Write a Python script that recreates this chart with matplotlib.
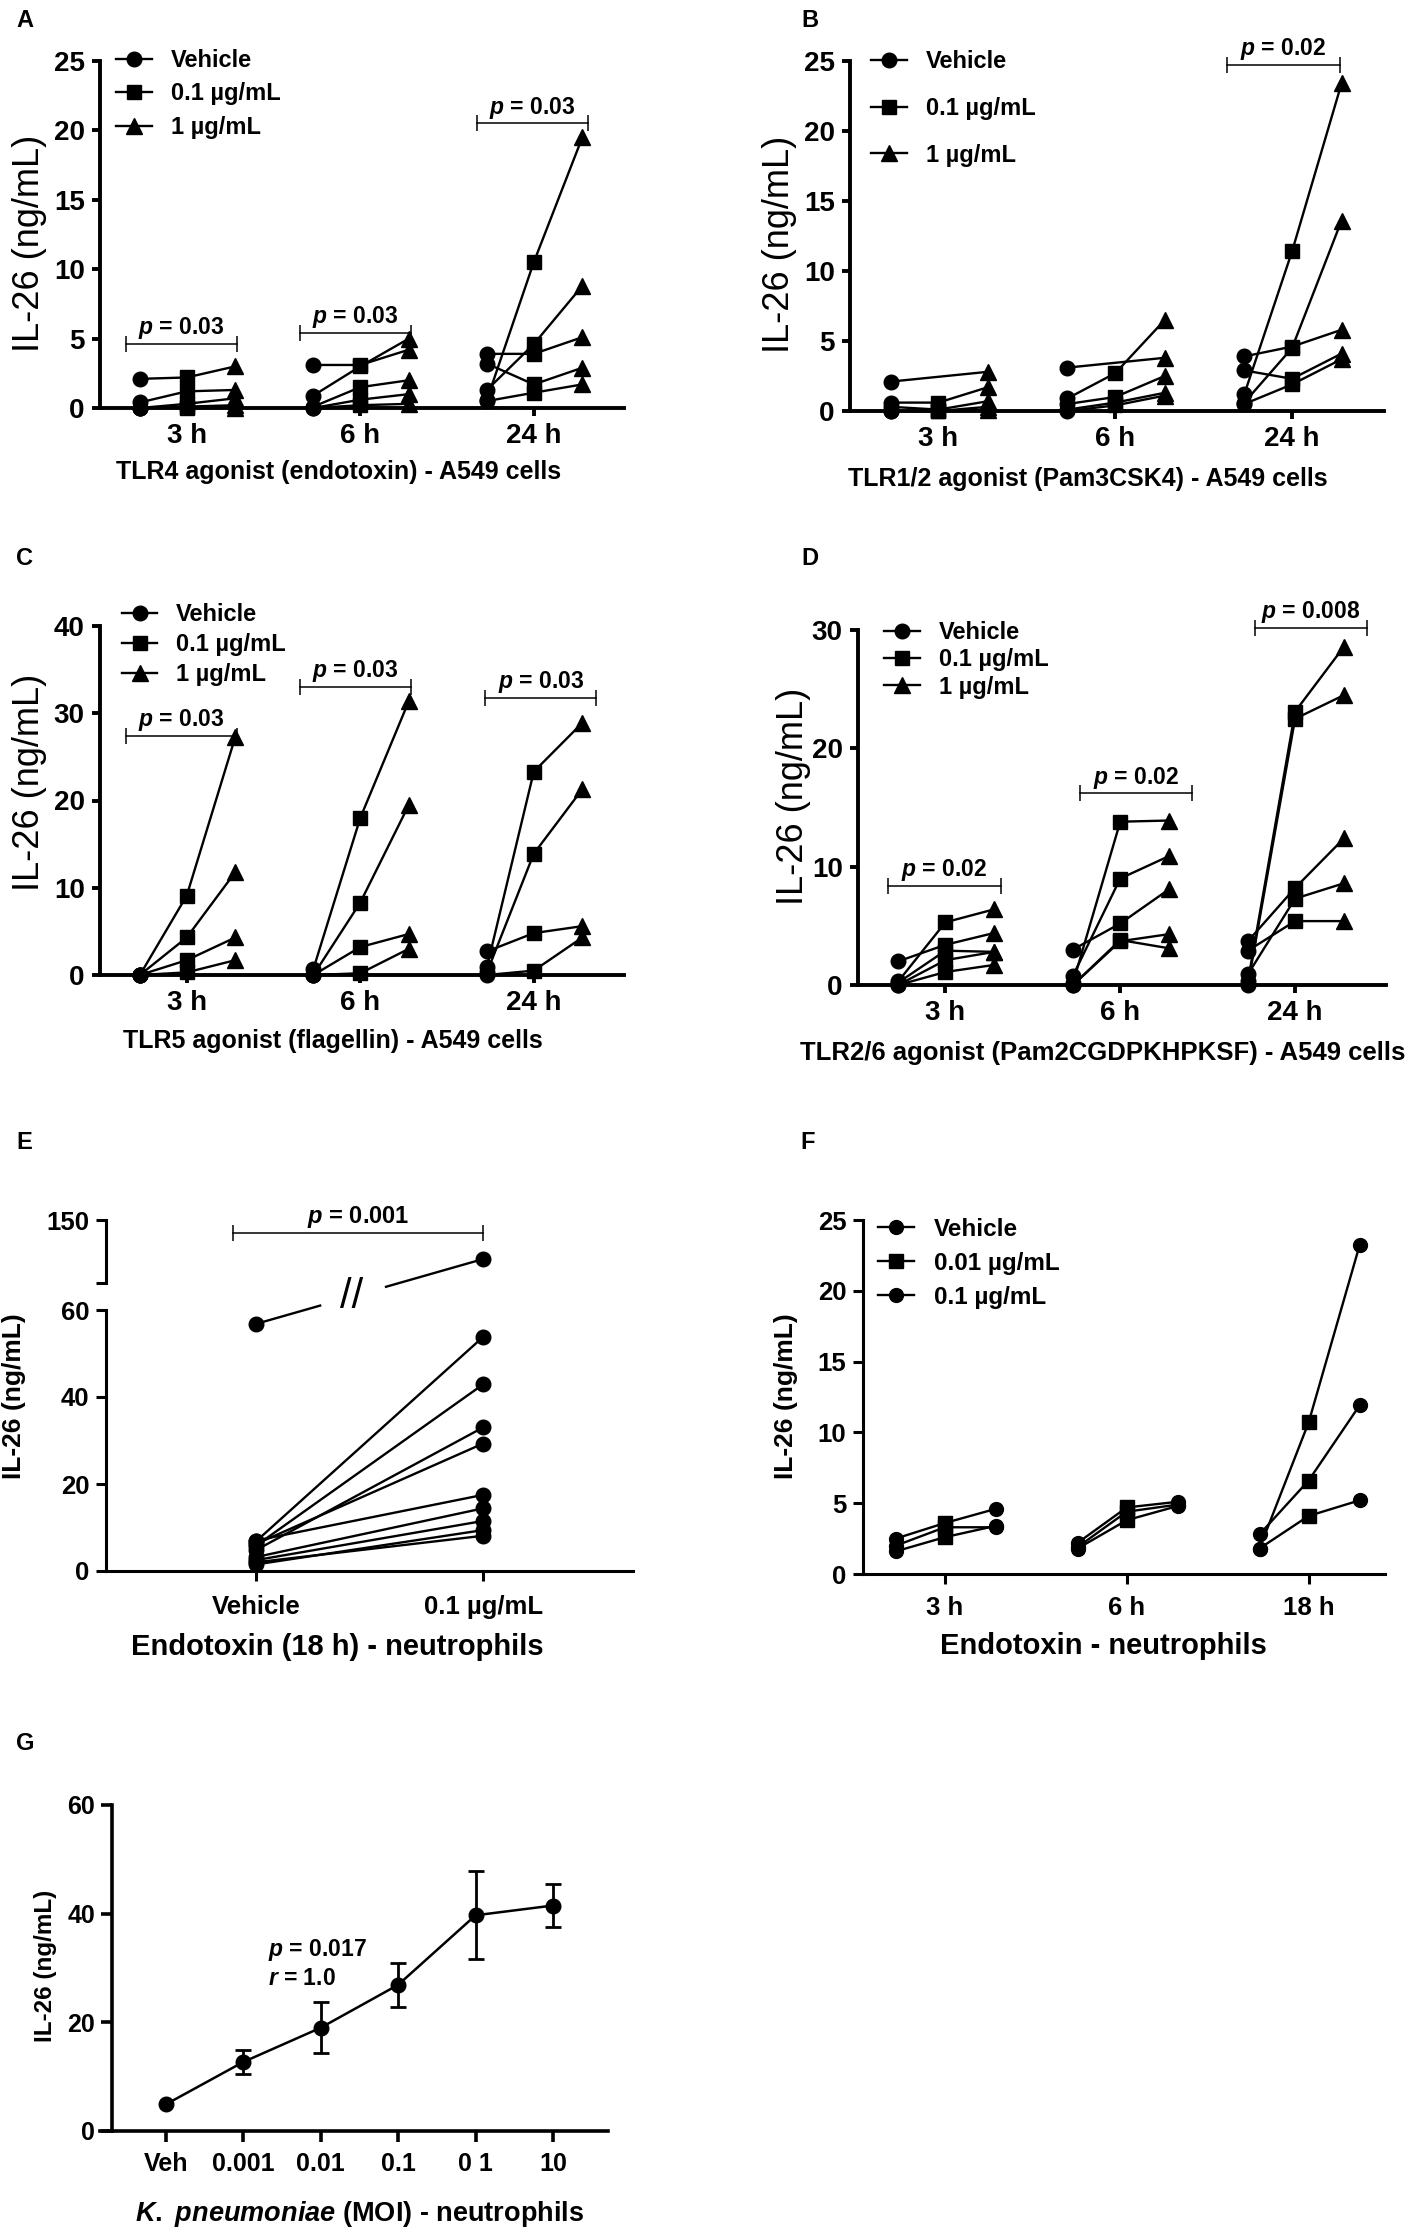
import numpy as np
import matplotlib
matplotlib.use('Agg')
import matplotlib.pyplot as plt
from matplotlib.lines import Line2D

plt.rcParams['font.family'] = ['Liberation Sans', 'DejaVu Sans']
plt.rcParams['font.weight'] = 'bold'
plt.rcParams['mathtext.fontset'] = 'custom'
plt.rcParams['mathtext.it'] = 'Liberation Sans:italic:bold'
plt.rcParams['mathtext.rm'] = 'Liberation Sans:bold'
plt.rcParams['mathtext.bf'] = 'Liberation Sans:bold'

nan = np.nan

# ---- data (rows = time point, columns = donor) ----
times_24 = ['3 h', '6 h', '24 h']
times_18 = ['3 h', '6 h', '18 h']
doses_a549 = ['Vehicle', '0.1 µg/mL', '1 µg/mL']
doses_neut = ['Vehicle', '0.01 µg/mL', '0.1 µg/mL']

a_veh = [[2.1, 0.4, 0.0, 0.0, 0.0], [3.1, 0.9, 0.1, 0.0, 0.0], [3.9, 1.3, 0.6, 3.2, 0.5]]
a_low = [[2.2, 1.2, 0.3, 0.1, 0.0], [3.1, 3.0, 1.5, 0.6, 0.2], [3.9, 4.6, 10.5, 1.7, 1.1]]
a_high = [[3.0, 1.3, 0.7, 0.2, 0.0], [4.2, 5.0, 2.0, 1.0, 0.3], [5.1, 8.8, 19.5, 2.9, 1.7]]

b_veh = [[2.1, 0.6, 0.3, 0.0, 0.0], [3.1, 0.9, 0.5, 0.1, 0.0], [3.9, 1.2, 0.6, 2.9, 0.5]]
b_low = [[nan, 0.6, 0.1, 0.0, 0.0], [nan, 2.7, 1.0, 0.6, 0.4], [4.6, 11.4, 4.5, 2.3, 1.9]]
b_high = [[2.8, 1.7, 0.7, 0.3, 0.1], [3.8, 6.5, 2.5, 1.3, 1.1], [5.8, 23.4, 13.6, 4.1, 3.7]]

c_veh = [[0.0, 0.0, 0.0, 0.0], [0.7, 0.0, 0.0, 0.0], [0.9, 0.3, 2.7, 0.0]]
c_low = [[9.1, 4.3, 1.7, 0.3], [18.0, 8.3, 3.2, 0.2], [23.3, 13.9, 4.8, 0.5]]
c_high = [[27.3, 11.8, 4.3, 1.7], [31.4, 19.5, 4.7, 3.0], [28.9, 21.3, 5.6, 4.3]]

d_veh = [[0.3, 2.0, 0.2, 0.0, 0.0], [0.2, 0.8, 3.0, 0.0, 0.0], [0.3, 0.0, 3.7, 0.9, 2.9]]
d_low = [[5.3, 3.4, 2.9, 2.1, 1.1], [13.8, 9.0, 5.2, 3.7, 3.8], [23.1, 22.5, 8.2, 7.3, 5.4]]
d_high = [[6.4, 4.4, 2.8, 2.8, 1.7], [13.9, 10.9, 8.1, 4.3, 3.1], [28.6, 24.5, 12.4, 8.6, 5.4]]

e_groups = ['Vehicle', '0.1 µg/mL']
e_veh = [56.8, 6.8, 5.8, 4.8, 6.2, 7.0, 3.2, 2.5, 1.5, 2.0]
e_trt = [119.0, 53.8, 42.9, 33.0, 29.3, 17.5, 14.4, 11.5, 9.4, 8.1]

f_veh = [[2.5, 2.0, 1.6], [2.2, 1.9, 1.8], [1.8, 2.8, 1.8]]
f_low = [[3.6, 3.3, 2.6], [4.7, 4.4, 3.8], [10.7, 6.6, 4.1]]
f_high = [[4.6, 3.3, 3.4], [5.1, 4.9, 4.8], [23.2, 11.9, 5.2]]

g_labels = ['Veh', '0.001', '0.01', '0.1', '0 1', '10']
g_mean = [4.9, 12.7, 19.0, 26.9, 39.7, 41.5]
g_sem = [nan, 2.2, 4.7, 4.0, 8.1, 3.9]

W, H = 1417, 2230
fig = plt.figure(figsize=(W / 100, H / 100), dpi=100)


def px_axes(l, t, r, b):
    return fig.add_axes([l / W, 1 - b / H, (r - l) / W, (b - t) / H])


def frame(ax, lw, tl, fs, xpad, ypad):
    ax.spines['top'].set_visible(False)
    ax.spines['right'].set_visible(False)
    for s in ['left', 'bottom']:
        ax.spines[s].set_linewidth(lw)
        ax.spines[s].set_capstyle('projecting')
    ax.tick_params(width=lw, length=tl, labelsize=fs)
    ax.tick_params(axis='x', pad=xpad)
    ax.tick_params(axis='y', pad=ypad)
    ax.set_facecolor('none')


def atext(ax, x, y, s, fs, **kw):
    ax.text(x, y, s, transform=ax.transAxes, fontsize=fs, ha=kw.pop('ha', 'center'),
            va='center', **kw)


def letter(s, x, y):
    fig.text(x / W, 1 - y / H, s, fontsize=17, fontweight='bold', ha='left', va='top')


def bracket(ax, x0, x1, y, s, fs):
    ax.plot([x0, x1], [y, y], color='k', lw=1.1, marker='|', ms=11, mew=1.1,
            clip_on=False, zorder=4)
    ax.annotate(s, xy=((x0 + x1) / 2, y), xytext=(0, 2), textcoords='offset points',
                ha='center', va='bottom', fontsize=fs, annotation_clip=False)


offs = [-0.27, 0.0, 0.28]
msizes = {'o': 10.5, 's': 10, '^': 11.5}


def paired(ax, veh, low, high, markers, lw=1.7, scale=1.0):
    for t in range(len(veh)):
        for d in range(len(veh[t])):
            xs = np.array([t + o for o in offs])
            ys = np.array([veh[t][d], low[t][d], high[t][d]], float)
            ok = ~np.isnan(ys)
            ax.plot(xs[ok], ys[ok], '-', color='k', lw=lw, clip_on=False, zorder=2)
            for x, y, m in zip(xs, ys, markers):
                if not np.isnan(y):
                    ax.plot(x, y, m, color='k', ms=msizes[m] * scale, clip_on=False, zorder=3)


def legend(ax, labels, markers, anchor, spacing, fs, scale=1.0):
    hs = [Line2D([], [], color='k', lw=1.7, marker=m, ms=msizes[m] * scale) for m in markers]
    ax.legend(hs, labels, loc='upper left', bbox_to_anchor=anchor, frameon=False,
              fontsize=fs, borderpad=0, borderaxespad=0, handlelength=1.5,
              handletextpad=0.8, labelspacing=spacing)


# ---- panels A-D ----
panels = [
    dict(letter='A', lxy=(16, 9), box=(100, 61, 624, 408), data=(a_veh, a_low, a_high),
         ymax=25, ystep=5, xlab='TLR4 agonist (endotoxin) - A549 cells', xl=(0.456, -0.184, 'center', 18),
         yl=(-0.135, 0.473), anchor=(0.031, 1.035), spacing=0.45,
         brackets=[(0, -0.35, 0.29, 4.6, '0.03'), (1, -0.35, 0.29, 5.4, '0.03'),
                   (2, -0.33, 0.31, 20.5, '0.03')]),
    dict(letter='B', lxy=(801, 9), box=(850, 61, 1384, 411), data=(b_veh, b_low, b_high),
         ymax=25, ystep=5, xlab='TLR1/2 agonist (Pam3CSK4) - A549 cells', xl=(0.446, -0.194, 'center', 18),
         yl=(-0.132, 0.477), anchor=(0.04, 1.03), spacing=1.0,
         brackets=[(2, -0.37, 0.27, 24.7, '0.02')]),
    dict(letter='C', lxy=(16, 547), box=(100, 626, 624, 975), data=(c_veh, c_low, c_high),
         ymax=40, ystep=10, xlab='TLR5 agonist (flagellin) - A549 cells', xl=(0.445, -0.189, 'center', 18),
         yl=(-0.135, 0.553), anchor=(0.042, 1.066), spacing=0.3,
         brackets=[(0, -0.35, 0.29, 27.4, '0.03'), (1, -0.35, 0.29, 33.0, '0.03'),
                   (2, -0.28, 0.36, 31.8, '0.03')]),
    dict(letter='D', lxy=(801, 547), box=(858, 630, 1386, 985), data=(d_veh, d_low, d_high),
         ymax=30, ystep=10, xlab='TLR2/6 agonist (Pam2CGDPKHPKSF) - A549 cells', xl=(-0.11, -0.192, 'left', 18.5),
         yl=(-0.122, 0.532), anchor=(0.05, 1.025), spacing=0.18,
         brackets=[(0, -0.33, 0.32, 8.4, '0.02'), (1, -0.23, 0.41, 16.2, '0.02'),
                   (2, -0.23, 0.41, 30.2, '0.008')]),
]

for p in panels:
    ax = px_axes(*p['box'])
    frame(ax, 2.8, 6, 20, 5, 5)
    veh, low, high = p['data']
    paired(ax, veh, low, high, ['o', 's', '^'])
    ax.set_xlim(-0.5, 2.52)
    ax.set_ylim(0, p['ymax'])
    ax.set_yticks(np.arange(0, p['ymax'] + 1, p['ystep']))
    ax.set_xticks(range(3))
    ax.set_xticklabels(times_24)
    for t, dx0, dx1, y, pv in p['brackets']:
        bracket(ax, t + dx0, t + dx1, y, r'$p$ = ' + pv, 16.5)
    legend(ax, doses_a549, ['o', 's', '^'], p['anchor'], p['spacing'], 17)
    atext(ax, p['xl'][0], p['xl'][1], p['xlab'], p['xl'][3], ha=p['xl'][2])
    atext(ax, p['yl'][0], p['yl'][1], 'IL-26 (ng/mL)', 26, rotation=90, fontweight='normal')
    letter(p['letter'], *p['lxy'])

# ---- panel E (broken axis) ----
ax_hi = px_axes(106, 1220, 633, 1283)
ax_lo = px_axes(106, 1310, 633, 1571)
for ax in (ax_hi, ax_lo):
    frame(ax, 2.2, 7, 18.5, 10, 5)
    ax.set_xlim(-0.66, 1.66)
ax_hi.spines['bottom'].set_visible(False)
ax_hi.set_xticks([])
ax_hi.set_ylim(100, 150)
ax_hi.set_yticks([100, 150])
ax_hi.set_yticklabels(['', '150'])
ax_lo.set_ylim(0, 60)
ax_lo.set_yticks([0, 20, 40, 60])
ax_lo.set_xticks([0, 1])
ax_lo.set_xticklabels(e_groups)

for v, t in zip(e_veh[1:], e_trt[1:]):
    ax_lo.plot([0, 1], [v, t], '-o', color='k', lw=1.7, ms=10.5, clip_on=False, zorder=3)
ax_lo.plot(0, e_veh[0], 'o', color='k', ms=10.5, clip_on=False, zorder=3)
ax_hi.plot(1, e_trt[0], 'o', color='k', ms=10.5, clip_on=False, zorder=3)

# line across the break, with a gap and '//' mark
p0 = ax_lo.transData.transform((0, e_veh[0]))
p1 = ax_hi.transData.transform((1, e_trt[0]))
yg = fig.transFigure.transform((0, (ax_hi.get_position().y0 + ax_lo.get_position().y1) / 2))[1]
tg = (yg - p0[1]) / (p1[1] - p0[1])
inv = fig.transFigure.inverted()
for ta, tb in [(0.0, tg - 0.14), (tg + 0.15, 1.0)]:
    qa = inv.transform(p0 + ta * (p1 - p0))
    qb = inv.transform(p0 + tb * (p1 - p0))
    fig.add_artist(Line2D([qa[0], qb[0]], [qa[1], qb[1]], color='k', lw=1.7,
                          transform=fig.transFigure))
qm = inv.transform(p0 + tg * (p1 - p0))
fig.text(qm[0], qm[1], '//', fontsize=30, fontweight='normal', ha='center', va='center')

bracket(ax_hi, -0.1, 1.0, 139.7, r'$p$ = 0.001', 17)
atext(ax_lo, 0.438, -0.291, 'Endotoxin (18 h) - neutrophils', 21)
atext(ax_lo, -0.175, 0.67, 'IL-26 (ng/mL)', 19, rotation=90)
letter('E', 16, 1131)

# ---- panel F ----
ax = px_axes(863, 1220, 1385, 1574)
frame(ax, 2.2, 7, 18.5, 9, 5)
paired(ax, f_veh, f_low, f_high, ['o', 's', 'o'], lw=1.7, scale=0.95)
ax.set_xlim(-0.45, 2.42)
ax.set_ylim(0, 25)
ax.set_yticks(np.arange(0, 26, 5))
ax.set_xticks(range(3))
ax.set_xticklabels(times_18)
legend(ax, doses_neut, ['o', 's', 'o'], (0.028, 1.006), 0.45, 17.5, scale=0.95)
atext(ax, 0.46, -0.203, 'Endotoxin - neutrophils', 21)
atext(ax, -0.148, 0.503, 'IL-26 (ng/mL)', 19, rotation=90)
letter('F', 800, 1131)

# ---- panel G ----
ax = px_axes(100, 1805, 608, 2131)
frame(ax, 2.6, 8, 18, 7, 4)
ax.spines['left'].set_position(('data', -0.70))
xg = np.arange(len(g_labels))
ax.errorbar(xg, g_mean, yerr=g_sem, fmt='-o', color='k', lw=1.8, ms=10.5,
            elinewidth=2, capsize=6, capthick=2, clip_on=False, zorder=3)
ax.set_xlim(-0.85, 5.71)
ax.set_ylim(0, 60)
ax.set_yticks([0, 20, 40, 60])
ax.set_xticks(xg)
ax.set_xticklabels(g_labels)
ax.text(1.32, 33.3, r'$p$ = 0.017', fontsize=16.5, ha='left', va='center')
ax.text(1.32, 28.0, r'$r$ = 1.0', fontsize=16.5, ha='left', va='center')
atext(ax, 0.51, -0.255, r'$K.\ pneumoniae$ (MOI) - neutrophils', 19.5)
atext(ax, -0.108, 0.506, 'IL-26 (ng/mL)', 17.5, rotation=90)
letter('G', 16, 1732)

fig.savefig('out.png', dpi=100)
